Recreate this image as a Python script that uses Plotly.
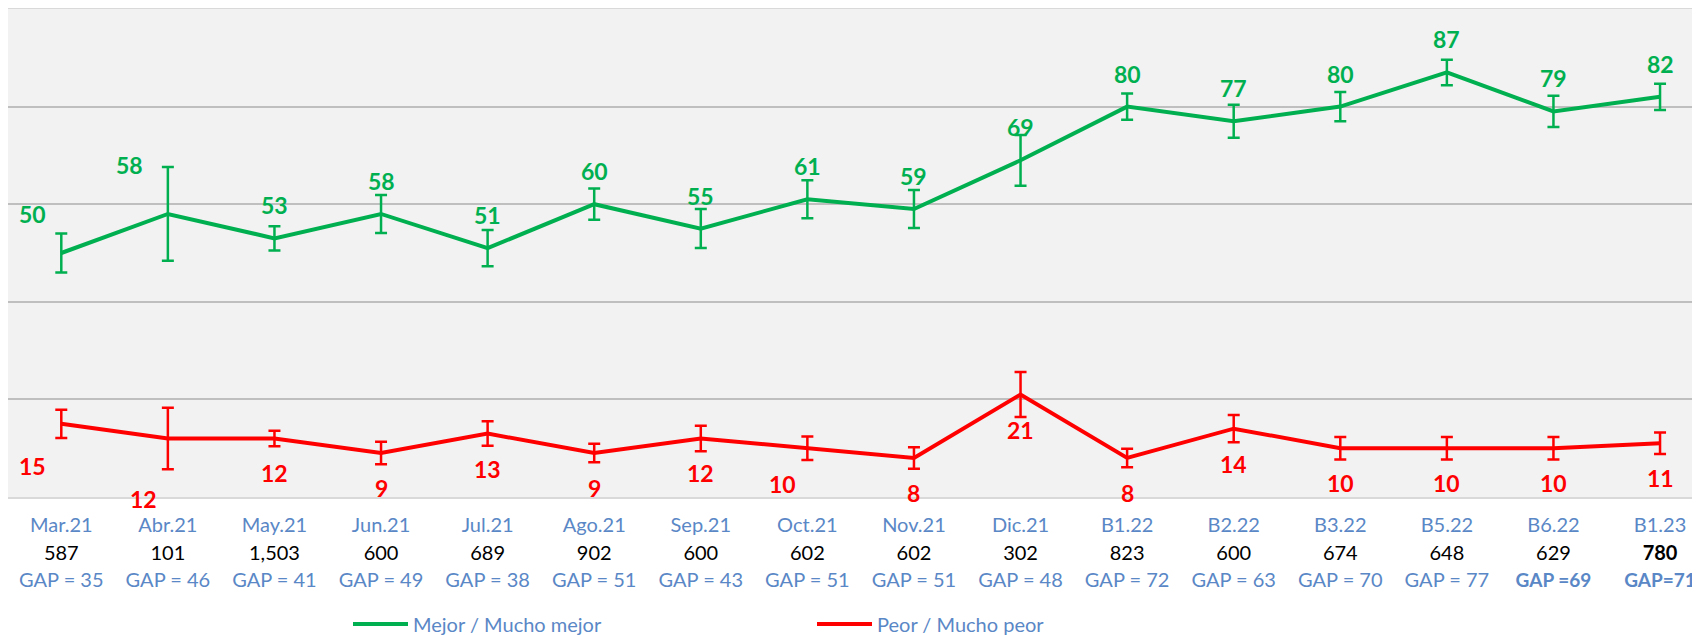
import plotly.graph_objects as go

# ---------------- data ----------------
categories = ["Mar.21", "Abr.21", "May.21", "Jun.21", "Jul.21", "Ago.21", "Sep.21", "Oct.21",
              "Nov.21", "Dic.21", "B1.22", "B2.22", "B3.22", "B5.22", "B6.22", "B1.23"]
sample_sizes = ["587", "101", "1,503", "600", "689", "902", "600", "602",
                "602", "302", "823", "600", "674", "648", "629", "780"]
gap_labels = ["GAP = 35", "GAP = 46", "GAP = 41", "GAP = 49", "GAP = 38", "GAP = 51", "GAP = 43", "GAP = 51",
              "GAP = 51", "GAP = 48", "GAP = 72", "GAP = 63", "GAP = 70", "GAP = 77", "GAP =69", "GAP=71"]
bold_ticks = ["B6.22", "B1.23"]          # GAP shown in bold
bold_n = ["B1.23"]                       # sample size shown in bold

mejor = [50, 58, 53, 58, 51, 60, 55, 61, 59, 69, 80, 77, 80, 87, 79, 82]
mejor_err = [4.0, 9.6, 2.5, 3.9, 3.7, 3.2, 4.0, 3.9, 3.9, 5.2, 2.7, 3.4, 3.0, 2.6, 3.2, 2.7]

peor = [15, 12, 12, 9, 13, 9, 12, 10, 8, 21, 8, 14, 10, 10, 10, 11]
peor_err = [2.9, 6.3, 1.6, 2.3, 2.5, 1.9, 2.6, 2.4, 2.2, 4.6, 1.9, 2.8, 2.3, 2.3, 2.3, 2.2]

# ---------------- styles ----------------
GREEN = "#00B050"
RED = "#FF0000"
BLUE = "#5A87C6"
FONT = "Lato"
TICK_PX = 20
BOLD_TICK_PX = 19

# label offsets (pixels) for manually moved labels
mejor_shift = {0: (-29, 39), 1: (-38, 49)}
peor_shift = {0: (-29, -42), 1: (-24, -61), 7: (-25, -36)}

def span(txt, color=None, size=TICK_PX):
    st = f"font-size:{size}px"
    if color:
        st += f";color:{color}"
    return f"<span style='{st}'>{txt}</span>"

ticktext = []
for c, n, g in zip(categories, sample_sizes, gap_labels):
    n_txt = span(f"<b>{n}</b>", "#000000") if c in bold_n else span(n, "#000000")
    g_txt = span(f"<b>{g}</b>", size=BOLD_TICK_PX) if c in bold_ticks else span(g)
    ticktext.append(span(c) + "<br>" + n_txt + "<br>" + g_txt)

fig = go.Figure()
fig.add_trace(go.Scatter(
    x=categories, y=mejor, mode="lines", name="Mejor / Mucho mejor",
    line=dict(color=GREEN, width=4),
    error_y=dict(type="data", array=mejor_err, visible=True, color=GREEN, thickness=2.5, width=6),
))
fig.add_trace(go.Scatter(
    x=categories, y=peor, mode="lines", name="Peor / Mucho peor",
    line=dict(color=RED, width=4),
    error_y=dict(type="data", array=peor_err, visible=True, color=RED, thickness=2.5, width=6),
))

for i, (c, v) in enumerate(zip(categories, mejor)):
    dx, dy = mejor_shift.get(i, (0, 33))
    fig.add_annotation(x=c, y=v, text=f"<b>{v}</b>", showarrow=False, xshift=dx, yshift=dy,
                       font=dict(family=FONT, size=23, color=GREEN))
for i, (c, v) in enumerate(zip(categories, peor)):
    dx, dy = peor_shift.get(i, (0, -35))
    fig.add_annotation(x=c, y=v, text=f"<b>{v}</b>", showarrow=False, xshift=dx, yshift=dy,
                       font=dict(family=FONT, size=23, color=RED))

fig.update_layout(
    width=1700, height=635,
    margin=dict(l=0, r=0, t=1, b=146, autoexpand=False),
    paper_bgcolor="white", plot_bgcolor="#F2F2F2",
    font=dict(family=FONT, size=20, color=BLUE),
    showlegend=True,
    legend=dict(orientation="h", xref="container", yref="container",
                x=0.2, xanchor="left", y=0.03, yanchor="middle",
                font=dict(family=FONT, size=20, color=BLUE),
                itemwidth=55, entrywidth=394, entrywidthmode="pixels",
                bgcolor="rgba(0,0,0,0)"),
)
fig.update_xaxes(
    type="category", range=[-0.5, 15.45],
    tickmode="array", tickvals=categories, ticktext=ticktext,
    tickfont=dict(family=FONT, size=21, color=BLUE),
    showgrid=False, ticks="", showline=True, mirror=True, linecolor="#D9D9D9", linewidth=2,
    ticklabelstandoff=8, automargin=False,
)
fig.update_yaxes(
    range=[0, 100], tickvals=[0, 20, 40, 60, 80, 100], showticklabels=False,
    showgrid=True, gridcolor="#BFBFBF", gridwidth=1.5, zeroline=False,
    showline=True, mirror=True, linecolor="#D9D9D9", linewidth=2, automargin=False,
)

fig.write_html("out.html")
